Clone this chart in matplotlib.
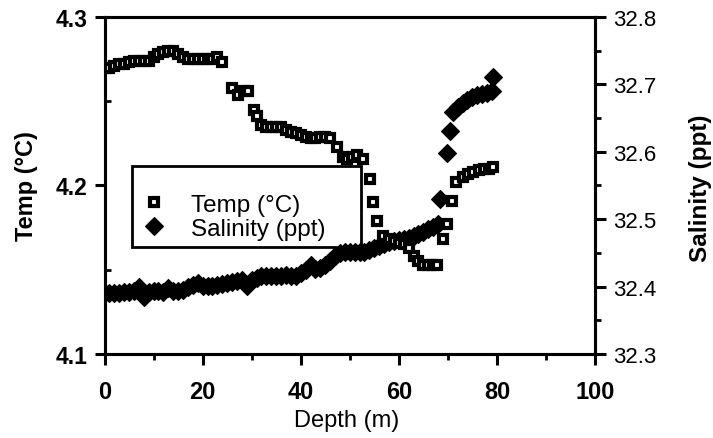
import matplotlib
matplotlib.use('Agg')
import matplotlib.pyplot as plt
from matplotlib.ticker import MultipleLocator
from matplotlib.lines import Line2D
from matplotlib.patches import Rectangle

plt.rcParams['font.family'] = ['Liberation Sans', 'DejaVu Sans']

# ---- data ----
temp_depth = [0, 1, 2, 3, 4, 5, 6, 7, 8, 9, 10, 11, 12, 13, 14, 15, 16, 17, 18, 19,
              20, 21, 22, 23, 24, 26, 27.2, 28.4, 29.3, 30.4, 31.1, 32, 33, 34, 35, 36,
              37, 38, 39, 40, 41, 42, 43, 44, 45, 46, 47.4, 48.6, 49.5, 50.5, 51.5, 52.8,
              54.2, 54.8, 55.6, 56.8, 58, 59, 60, 61, 62, 63, 64, 65, 66, 67, 67.8,
              69.1, 69.9, 70.9, 71.6, 73, 74.2, 75.2, 76.4, 77.4, 78.4, 79.3]
temp_c = [4.270, 4.270, 4.271, 4.272, 4.272, 4.273, 4.274, 4.274, 4.274, 4.274,
          4.276, 4.278, 4.279, 4.280, 4.280, 4.278, 4.276, 4.275, 4.275, 4.275,
          4.275, 4.275, 4.275, 4.276, 4.273, 4.258, 4.254, 4.256, 4.256, 4.245,
          4.241, 4.236, 4.235, 4.235, 4.235, 4.235, 4.233, 4.232, 4.231, 4.230,
          4.229, 4.228, 4.228, 4.229, 4.229, 4.228, 4.223, 4.217, 4.216, 4.217,
          4.218, 4.216, 4.204, 4.190, 4.179, 4.170, 4.168, 4.167, 4.166, 4.165,
          4.163, 4.158, 4.155, 4.153, 4.153, 4.153, 4.153, 4.168, 4.177, 4.191,
          4.202, 4.205, 4.207, 4.208, 4.209, 4.210, 4.210, 4.211]

sal_depth = [0, 1, 2, 3, 4, 5, 6, 7, 8, 9, 10, 11, 12, 13, 14, 15, 16, 17, 18, 19,
             20, 21, 22, 23, 24, 25, 26, 27, 28, 29, 30, 31, 32, 33, 34, 35, 36, 37,
             38, 39, 40, 41, 42, 43, 44, 45, 46, 47, 48, 49, 50, 51, 52, 53, 54, 55,
             56, 57, 58, 59, 60, 61, 62, 63, 64, 65, 66, 67, 68, 68.4, 69.8, 70.4,
             71, 72, 73, 74, 75, 76, 77, 78, 79, 79.3]
sal_ppt = [32.391, 32.391, 32.391, 32.391, 32.392, 32.392, 32.394, 32.399, 32.384,
           32.392, 32.393, 32.393, 32.392, 32.398, 32.393, 32.393, 32.395, 32.399,
           32.403, 32.405, 32.401, 32.401, 32.401, 32.402, 32.404, 32.405, 32.407,
           32.408, 32.410, 32.401, 32.410, 32.413, 32.415, 32.415, 32.415, 32.416,
           32.416, 32.417, 32.416, 32.416, 32.420, 32.425, 32.432, 32.426, 32.427,
           32.432, 32.438, 32.445, 32.450, 32.452, 32.451, 32.451, 32.451, 32.452,
           32.454, 32.457, 32.460, 32.463, 32.466, 32.468, 32.469, 32.470, 32.472,
           32.475, 32.478, 32.481, 32.485, 32.489, 32.493, 32.530, 32.598, 32.631,
           32.659, 32.667, 32.673, 32.677, 32.681, 32.684, 32.686, 32.687, 32.690,
           32.711]

x_ticks = [0, 20, 40, 60, 80, 100]
temp_ticks = [4.1, 4.2, 4.3]
sal_ticks = [32.3, 32.4, 32.5, 32.6, 32.7, 32.8]

W, H = 713, 439
fig = plt.figure(figsize=(W / 100, H / 100), dpi=100)
ax = fig.add_axes([104.5 / W, 1 - 355 / H, 490.5 / W, 337 / H])
ax2 = ax.twinx()

SQ = dict(linestyle='none', marker='s', markersize=6.0, markerfacecolor='white',
          markeredgecolor='black', markeredgewidth=3.0)
DI = dict(linestyle='none', marker='D', markersize=8.8, markerfacecolor='black',
          markeredgecolor='black', markeredgewidth=0.8)


def ax_x(px):
    return (px - 104.5) / 490.5


def ax_y(py):
    return (355 - py) / 337


# legend frame (drawn under the salinity marks, as in the reference)
box = Rectangle((ax_x(132), ax_y(248)), ax_x(361) - ax_x(132), ax_y(167) - ax_y(248),
                transform=ax2.transAxes, facecolor='white', edgecolor='black',
                linewidth=2, zorder=1)
ax2.add_patch(box)

ax2.plot(sal_depth, sal_ppt, zorder=3, **DI)
ax.plot(temp_depth, temp_c, **SQ)

ax.set_zorder(ax2.get_zorder() + 1)
ax.patch.set_visible(False)

ax.set_xlim(0, 100)
ax.set_ylim(4.1, 4.3)
ax2.set_ylim(32.3, 32.8)

ax.set_xticks(x_ticks)
ax.set_xticklabels([str(v) for v in x_ticks])
ax.xaxis.set_minor_locator(MultipleLocator(10))
ax.set_yticks(temp_ticks)
ax.set_yticklabels([f'{v:.1f}' for v in temp_ticks])
ax.yaxis.set_minor_locator(MultipleLocator(0.05))
ax2.set_yticks(sal_ticks)
ax2.set_yticklabels([f'{v:.1f}' for v in sal_ticks])
ax2.yaxis.set_minor_locator(MultipleLocator(0.05))

for a in (ax, ax2):
    for s in a.spines.values():
        s.set_linewidth(2.2)
        s.set_color('black')

ax.tick_params(axis='x', which='major', direction='out', length=8, width=2.2,
               pad=11, labelsize=17)
ax.tick_params(axis='x', which='minor', direction='out', length=4, width=2)
ax.tick_params(axis='y', which='major', direction='out', length=7.5, width=2.2,
               pad=5, labelsize=16.5)
ax.tick_params(axis='y', which='minor', direction='in', length=4, width=2)
ax2.tick_params(axis='y', which='major', direction='out', length=8, width=2.2,
                pad=5, labelsize=16)
ax2.tick_params(axis='y', which='minor', direction='out', length=4, width=2)
for lab in ax.get_xticklabels() + ax.get_yticklabels():
    lab.set_fontweight('bold')

fig.text(347 / W, 1 - 421 / H, 'Depth (m)', ha='center', va='center', fontsize=17)
fig.text(27 / W, 1 - 186 / H, 'Temp (°C)', ha='center', va='center', fontsize=17,
         fontweight='bold', rotation=90)
fig.text(700 / W, 1 - 188 / H, 'Salinity (ppt)', ha='center', va='center',
         fontsize=17.5, fontweight='bold', rotation=90)

handles = [Line2D([], [], **SQ), Line2D([], [], **DI)]
leg = ax.legend(handles, ['Temp (°C)', 'Salinity (ppt)'], loc='lower left',
                bbox_to_anchor=(ax_x(142), ax_y(241)),
                borderaxespad=0, borderpad=0, fontsize=17.5, frameon=False,
                handlelength=1.0, handletextpad=1.0, labelspacing=0.1)

fig.savefig('out.png', dpi=100)
